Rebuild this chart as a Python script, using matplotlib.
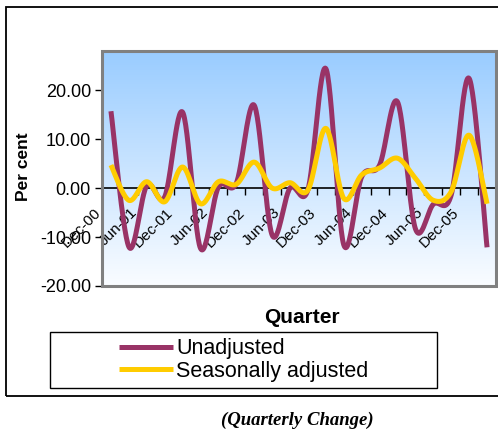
import matplotlib
matplotlib.use("Agg")
import matplotlib.pyplot as plt
import matplotlib.transforms as mtransforms
import numpy as np
from matplotlib.patches import Rectangle
from matplotlib.lines import Line2D

plt.rcParams["font.family"] = ["Liberation Sans", "DejaVu Sans"]

# Quarterly change in per cent, Dec-00 .. Mar-06
quarters = [
    "Dec-00", "Mar-01", "Jun-01", "Sep-01", "Dec-01", "Mar-02", "Jun-02", "Sep-02",
    "Dec-02", "Mar-03", "Jun-03", "Sep-03", "Dec-03", "Mar-04", "Jun-04", "Sep-04",
    "Dec-04", "Mar-05", "Jun-05", "Sep-05", "Dec-05", "Mar-06",
]
unadjusted = [
    15.7, -12.0, 0.5, -1.8, 15.5, -12.3, 0.2, 1.0,
    16.9, -9.6, 0.0, -0.3, 24.4, -11.6, 2.3, 4.7,
    17.6, -8.3, -3.3, -1.4, 22.4, -12.1,
]
seasonally_adjusted = [
    4.7, -2.5, 1.3, -2.8, 4.3, -3.2, 1.3, 0.8,
    5.3, 0.0, 1.1, -0.4, 12.2, -2.1, 2.7, 4.1,
    6.1, 2.0, -2.5, -0.7, 10.8, -3.2,
]
ytick_values = [-20, -10, 0, 10, 20]


def smooth(xs, ys, n=30):
    """Bezier smoothing through every point (spreadsheet-style smoothed line)."""
    xs = np.asarray(xs, float)
    ys = np.asarray(ys, float)
    px = np.concatenate([[xs[0]], xs, [xs[-1]]])
    py = np.concatenate([[ys[0]], ys, [ys[-1]]])
    out_x, out_y = [], []
    t = np.linspace(0, 1, n)
    for i in range(1, len(xs)):
        p0 = np.array([px[i], py[i]])
        p3 = np.array([px[i + 1], py[i + 1]])
        c1 = p0 + (p3 - np.array([px[i - 1], py[i - 1]])) / 6
        c2 = p3 - (np.array([px[i + 2], py[i + 2]]) - p0) / 6
        pts = ((1 - t) ** 3)[:, None] * p0 + (3 * (1 - t) ** 2 * t)[:, None] * c1 \
            + (3 * (1 - t) * t ** 2)[:, None] * c2 + (t ** 3)[:, None] * p3
        out_x.extend(pts[:, 0])
        out_y.extend(pts[:, 1])
    return np.array(out_x), np.array(out_y)


W, H = 498, 436
fig = plt.figure(figsize=(W / 100, H / 100), dpi=100)
fig.patch.set_facecolor("white")

# outer chart frame
fig.patches.append(Rectangle((6 / W, 1 - 396 / H), 600 / W, 389 / H,
                             transform=fig.transFigure, fill=False,
                             edgecolor="black", linewidth=1.3))

ax = fig.add_axes([102 / W, 1 - 286 / H, 394 / W, 235 / H])
x = np.arange(len(quarters))
ax.set_xlim(-0.5, len(quarters) - 0.5)
ax.set_ylim(-20, 28)

# blue-to-white plot area background
grad = np.linspace(0, 1, 256)[:, None]
top = np.array([0.60, 0.80, 1.00])
bottom = np.array([0.98, 0.99, 1.00])
img = top[None, None, :] * (1 - grad[:, :, None]) + bottom[None, None, :] * grad[:, :, None]
ax.imshow(img, extent=[0, 1, 0, 1], transform=ax.transAxes, aspect="auto", zorder=0)

ux, uy = smooth(x, unadjusted)
sx, sy = smooth(x, seasonally_adjusted)
ax.plot(ux, uy, color="#993366", linewidth=3.6, solid_capstyle="butt", zorder=3,
        label="Unadjusted")
ax.plot(sx, sy, color="#FFCC00", linewidth=3.6, solid_capstyle="butt", zorder=4,
        label="Seasonally adjusted")

# category axis sits on the zero line
for side in ["top", "right", "left"]:
    ax.spines[side].set_visible(False)
ax.spines["bottom"].set_position(("data", 0))
ax.spines["bottom"].set_color("black")
ax.spines["bottom"].set_linewidth(1.2)
ax.spines["bottom"].set_zorder(2)

ax.set_xticks(np.arange(-0.5, len(quarters), 1.0))
ax.set_xticklabels([])
ax.tick_params(axis="x", which="major", direction="out", length=5, width=1, color="black")
ax.set_xticks(x[::2], minor=True)
ax.set_xticklabels(quarters[::2], minor=True, rotation=45,
                   ha="right", va="center", fontsize=11, rotation_mode="anchor")
ax.tick_params(axis="x", which="minor", length=0, pad=0)
shift = mtransforms.ScaledTranslation(-0.12, -0.22, fig.dpi_scale_trans)
for lab in ax.get_xticklabels(minor=True):
    lab.set_transform(lab.get_transform() + shift)

ax.set_yticks(ytick_values)
ax.set_yticklabels([f"{v:.2f}" for v in ytick_values], fontsize=13)
ax.tick_params(axis="y", direction="out", length=5, width=1, color="black", pad=3)

# grey plot-area border
ax.add_patch(Rectangle((0, 0), 1, 1, transform=ax.transAxes, fill=False,
                       edgecolor="#808080", linewidth=2.2, clip_on=False, zorder=6))

fig.text(24 / W, 1 - 167 / H, "Per cent", rotation=90, ha="center", va="center",
         fontsize=12.5, fontweight="bold")
fig.text(302 / W, 1 - 317 / H, "Quarter", ha="center", va="center",
         fontsize=15, fontweight="bold")

# legend with its own box
fig.patches.append(Rectangle((50 / W, 1 - 388 / H), 387 / W, 56 / H,
                             transform=fig.transFigure, fill=False,
                             edgecolor="black", linewidth=1))
handles = [Line2D([], [], color="#993366", linewidth=3.6, solid_capstyle="butt"),
           Line2D([], [], color="#FFCC00", linewidth=3.6, solid_capstyle="butt")]
fig.legend(handles, ["Unadjusted", "Seasonally adjusted"], loc="center",
           bbox_to_anchor=(243.5 / W, 1 - 360 / H), frameon=False, fontsize=15.5,
           handlelength=2.5, handletextpad=0.15, labelspacing=0.05,
           borderpad=0, borderaxespad=0)

fig.text(297 / W, 1 - 420 / H, "(Quarterly Change)", ha="center", va="center",
         family="Liberation Serif", style="italic", fontweight="bold", fontsize=13.5)

fig.savefig("out.png", dpi=100)
